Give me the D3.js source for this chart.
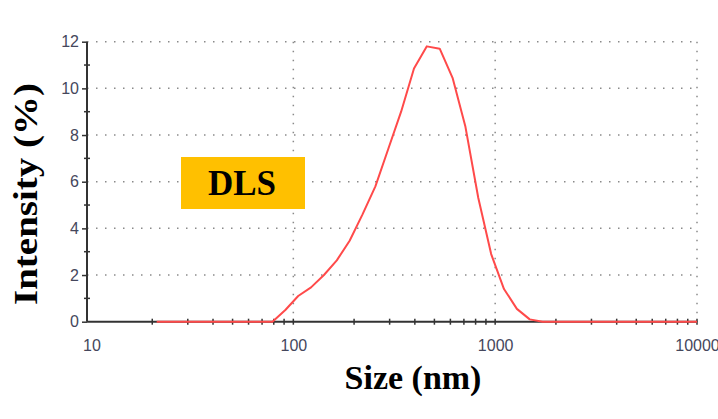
<!DOCTYPE html>
<html>
<head>
<meta charset="utf-8">
<script src="https://cdn.jsdelivr.net/npm/d3@7"></script>
<style>
  body { margin: 0; background: #fff; }
  svg { display: block; }
</style>
</head>
<body>
<svg width="718" height="419"></svg>
<script>
// size classes (nm) and intensity (%)
const sizes = [21.04, 24.36, 28.21, 32.67, 37.84, 43.82, 50.75, 58.77, 68.06, 78.82,
  91.28, 105.7, 122.4, 141.8, 164.2, 190.1, 220.2, 255.0, 295.3, 342.0,
  396.1, 458.7, 531.2, 615.1, 712.4, 825.0, 955.4, 1106, 1281, 1484,
  1718, 1990, 2305, 2669, 3091, 3580, 4145, 4801, 5560, 6439, 7456, 8635, 10000];
const intensity = [0, 0, 0, 0, 0, 0, 0, 0, 0, 0,
  0.5, 1.1, 1.47, 2.0, 2.63, 3.47, 4.6, 5.8, 7.4, 9.0,
  10.85, 11.8, 11.7, 10.45, 8.35, 5.3, 2.9, 1.4, 0.55, 0.1,
  0, 0, 0, 0, 0, 0, 0, 0, 0, 0, 0, 0, 0];
const xTicks = [10, 100, 1000, 10000];
const yTicks = [0, 2, 4, 6, 8, 10, 12];

const data = sizes.map((s, i) => ({ size: s, value: intensity[i] }));

const plotLeft = 87, plotRight = 697, plotTop = 41.7, plotBottom = 321.7;

const x = d3.scaleLog().domain([9.5, 10000]).range([plotLeft, plotRight]);
const y = d3.scaleLinear().domain([0, 12]).range([plotBottom, plotTop]);

const svg = d3.select('svg');
const labelColor = '#45475c';

// 网格线（点线）
let grid = svg.append('g');
grid.selectAll('.hg')
  .data(yTicks.filter(d => d > 0))
  .enter()
  .append('line')
  .attr('x1', plotLeft).attr('x2', plotRight)
  .attr('y1', d => y(d)).attr('y2', d => y(d))
  .attr('stroke', '#8a8a8a')
  .attr('stroke-width', 1.5)
  .attr('stroke-dasharray', '1.5,7.5');
grid.selectAll('.vg')
  .data(xTicks.filter(d => d > 10))
  .enter()
  .append('line')
  .attr('x1', d => x(d)).attr('x2', d => x(d))
  .attr('y1', plotTop).attr('y2', plotBottom)
  .attr('stroke', '#8a8a8a')
  .attr('stroke-width', 1.5)
  .attr('stroke-dasharray', '1.5,7.5');

// y轴
let gy = svg.append('g').attr('transform', `translate(${plotLeft},0)`);
gy.call(d3.axisLeft(y).tickValues(yTicks).tickSize(5).tickPadding(3));
gy.select('.domain').attr('stroke', '#333').attr('stroke-width', 2).attr('d', `M0,${plotTop}V${plotBottom}`);
gy.selectAll('line').attr('stroke', '#333').attr('stroke-width', 1.5);
gy.selectAll('text')
  .attr('fill', labelColor)
  .style('font-family', 'Liberation Sans, Arial, sans-serif')
  .style('font-size', '16px');
// y轴次刻度
gy.selectAll('.minor')
  .data(d3.range(1, 12, 2))
  .enter()
  .append('line')
  .attr('x1', -3).attr('x2', 3)
  .attr('y1', d => y(d)).attr('y2', d => y(d))
  .attr('stroke', '#333')
  .attr('stroke-width', 1.5);

// x轴
let gx = svg.append('g').attr('transform', `translate(0,${plotBottom})`);
gx.call(d3.axisBottom(x).tickValues(xTicks).tickFormat(d3.format('d')).tickSize(0).tickPadding(18));
gx.select('.domain').attr('stroke', '#333').attr('stroke-width', 2).attr('d', `M${plotLeft},0H${plotRight}`);
gx.selectAll('text')
  .attr('fill', labelColor)
  .style('font-family', 'Liberation Sans, Arial, sans-serif')
  .style('font-size', '16px');
// x轴次刻度
const minorX = [];
[10, 100, 1000].forEach(dec => {
  for (let k = 2; k <= 10; k++) minorX.push(dec * k);
});
gx.selectAll('.minor')
  .data(minorX)
  .enter()
  .append('line')
  .attr('x1', d => x(d)).attr('x2', d => x(d))
  .attr('y1', -3).attr('y2', 3)
  .attr('stroke', '#333')
  .attr('stroke-width', 1.5);

// 曲线
const line = d3.line()
  .x(d => x(d.size))
  .y(d => y(d.value));
svg.append('path')
  .datum(data)
  .attr('d', line)
  .attr('fill', 'none')
  .attr('stroke', '#ff4a4a')
  .attr('stroke-width', 2)
  .attr('stroke-linejoin', 'round');

// 轴标题
svg.append('text')
  .attr('x', 413).attr('y', 389)
  .attr('text-anchor', 'middle')
  .style('font-family', 'Liberation Serif, Times New Roman, serif')
  .style('font-weight', 'bold')
  .style('font-size', '34px')
  .text('Size (nm)');

svg.append('text')
  .attr('transform', 'translate(37,194) rotate(-90)')
  .attr('text-anchor', 'middle')
  .attr('textLength', 222)
  .attr('lengthAdjust', 'spacingAndGlyphs')
  .style('font-family', 'Liberation Serif, Times New Roman, serif')
  .style('font-weight', 'bold')
  .style('font-size', '34px')
  .text('Intensity (%)');

// DLS 标签
svg.append('rect')
  .attr('x', 181).attr('y', 157)
  .attr('width', 124).attr('height', 52)
  .attr('fill', '#ffc000');
svg.append('text')
  .attr('x', 242).attr('y', 195)
  .attr('text-anchor', 'middle')
  .style('font-family', 'Liberation Serif, Times New Roman, serif')
  .style('font-weight', 'bold')
  .style('font-size', '35px')
  .text('DLS');
</script>
</body>
</html>
